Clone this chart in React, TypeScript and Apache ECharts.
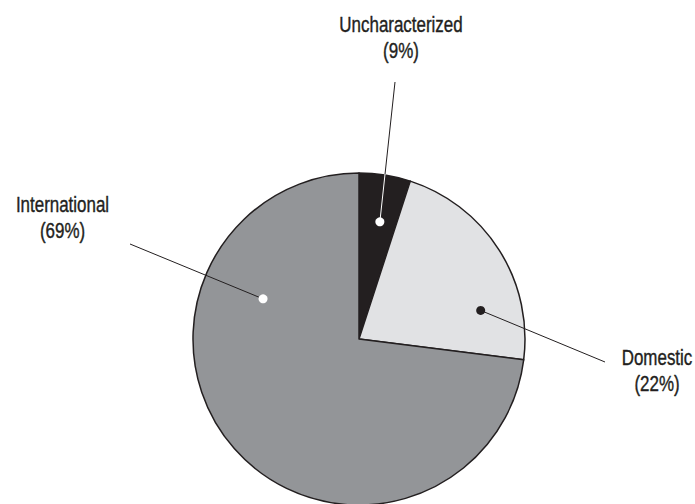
import React, { useEffect, useRef } from "react";
import * as echarts from "echarts";

const categories = ["Uncharacterized", "Domestic", "International"];
const sliceValues = [5, 22, 73];
const labelPercents = ["9%", "22%", "69%"];

const sliceColors = ["#231f20", "#e1e2e4", "#939598"];
const dotColors = ["#ffffff", "#231f20", "#ffffff"];

const CX = 359;
const CY = 339;
const R = 166;

// annotation layout: dot (angle clockwise from north in degrees, radius px), line end, label top-center
const annotations = [
  { angle: 10.1, r: 119, end: [395, 82], label: [401, 11.6] },
  { angle: 76.8, r: 125, end: [605, 362], label: [657, 344.3] },
  { angle: 292.7, r: 104, end: [130, 244], label: [62.5, 191] },
];

const FONT = '"Liberation Sans", Arial, sans-serif';

export default function App() {
  const ref = useRef<HTMLDivElement>(null);
  useEffect(() => {
    if (!ref.current) return;
    const chart = echarts.init(ref.current, null, { renderer: "svg" });
    const graphics: any[] = [];
    annotations.forEach((a, i) => {
      const rad = (a.angle * Math.PI) / 180;
      const dx = CX + a.r * Math.sin(rad);
      const dy = CY - a.r * Math.cos(rad);
      graphics.push({
        type: "line",
        shape: { x1: a.end[0], y1: a.end[1], x2: dx, y2: dy },
        style: { stroke: "#231f20", lineWidth: 1 },
        z: 10,
      });
      if (i === 0) {
        const t = (CY - R + 1 - a.end[1]) / (dy - a.end[1]);
        const ix = a.end[0] + t * (dx - a.end[0]);
        const iy = a.end[1] + t * (dy - a.end[1]);
        graphics.push({
          type: "line",
          shape: { x1: ix, y1: iy, x2: dx, y2: dy },
          style: { stroke: "#ffffff", lineWidth: 1 },
          z: 11,
        });
      }
      graphics.push({
        type: "circle",
        shape: { cx: dx, cy: dy, r: 4.5 },
        style: { fill: dotColors[i], lineWidth: 0 },
        z: 12,
      });
      graphics.push({
        type: "text",
        x: a.label[0],
        y: a.label[1],
        scaleX: 0.77,
        style: {
          text: categories[i] + "\n(" + labelPercents[i] + ")",
          fontFamily: FONT,
          fontSize: 22,
          lineHeight: 26,
          fill: "#231f20",
          stroke: "#231f20",
          lineWidth: 0.4,
          align: "center",
          verticalAlign: "top",
        },
        z: 12,
      });
    });
    chart.setOption({
      animation: false,
      backgroundColor: "#ffffff",
      series: [
        {
          type: "pie",
          center: [CX, CY],
          radius: R,
          startAngle: 90,
          clockwise: true,
          label: { show: false },
          labelLine: { show: false },
          silent: true,
          itemStyle: { borderColor: "#231f20", borderWidth: 1.5 },
          data: categories.map((c, i) => ({
            name: c,
            value: sliceValues[i],
            itemStyle: { color: sliceColors[i] },
          })),
        },
      ],
      graphic: graphics,
    });
    return () => chart.dispose();
  }, []);
  return (
    <div
      ref={ref}
      style={{ position: "fixed", left: 0, top: 0, width: 695, height: 504 }}
    />
  );
}
